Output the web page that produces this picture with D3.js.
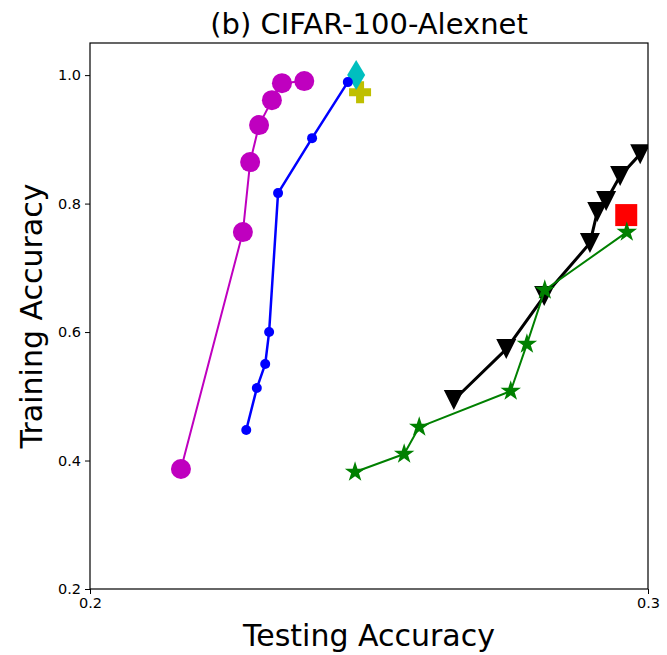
<!DOCTYPE html>
<html>
<head>
<meta charset="utf-8">
<script src="https://cdn.jsdelivr.net/npm/d3@7"></script>
<style>
  html, body { margin: 0; padding: 0; background: #fff; }
  svg text { font-family: "DejaVu Sans", sans-serif; fill: #000; }
</style>
</head>
<body>
<svg id="chart" width="667" height="655"></svg>
<script>
// Testing vs training accuracy, one array pair per method
const magentaTest  = [0.2163, 0.2274, 0.2287, 0.2303, 0.2326, 0.2344, 0.2384];
const magentaTrain = [0.3868, 0.7556, 0.8646, 0.9222, 0.9610, 0.9875, 0.9907];

const blueTest  = [0.2280, 0.2299, 0.2314, 0.2321, 0.2337, 0.2398, 0.2462];
const blueTrain = [0.4475, 0.5128, 0.5502, 0.6000, 0.8163, 0.9019, 0.9891];

const blackTest  = [0.2652, 0.2746, 0.2814, 0.2896, 0.2909, 0.2925, 0.2950, 0.2986];
const blackTrain = [0.4942, 0.5735, 0.6560, 0.7385, 0.7868, 0.8039, 0.8428, 0.8770];

const greenTest  = [0.2475, 0.2563, 0.2590, 0.2754, 0.2783, 0.2815, 0.2962];
const greenTrain = [0.3821, 0.4101, 0.4521, 0.5082, 0.5813, 0.6654, 0.7556];

// single-point methods
const cyanPoint   = [0.2477, 1.0000];
const yellowPoint = [0.2484, 0.9735];
const redPoint    = [0.2961, 0.7821];

const xTicks = [0.2, 0.3];
const yTicks = [0.2, 0.4, 0.6, 0.8, 1.0];

const margin = { left: 90, right: 19, top: 43, bottom: 66 };
const W = 667, H = 655;
const svg = d3.select("#chart");

const x = d3.scaleLinear().domain([0.2, 0.3]).range([margin.left, W - margin.right]);
const y = d3.scaleLinear().domain([0.2, 1.05]).range([H - margin.bottom, margin.top]);

svg.append("defs").append("clipPath").attr("id", "plotclip")
  .append("rect")
  .attr("x", margin.left).attr("y", margin.top)
  .attr("width", x.range()[1] - x.range()[0])
  .attr("height", y.range()[0] - y.range()[1]);

const plot = svg.append("g").attr("clip-path", "url(#plotclip)");

const zip = (a, b) => a.map((v, i) => [v, b[i]]);
const line = d3.line().x(d => x(d[0])).y(d => y(d[1]));

function series(pts, color, width, markerFn) {
  plot.append("path").datum(pts)
    .attr("d", line).attr("fill", "none")
    .attr("stroke", color).attr("stroke-width", width)
    .attr("stroke-linejoin", "round");
  markerFn(plot.selectAll(null).data(pts).enter(), color);
}

const circles = r => (sel, color) => sel.append("circle")
  .attr("cx", d => x(d[0])).attr("cy", d => y(d[1])).attr("r", r).attr("fill", color);

const symbolAt = (type, size) => (sel, color) => sel.append("path")
  .attr("d", d3.symbol().type(type).size(size)())
  .attr("transform", d => `translate(${x(d[0])},${y(d[1])})`)
  .attr("fill", color);

// downward triangle centred on its bounding box
const triDown = (sel, color) => sel.append("path")
  .attr("d", "M-10,-10 L10,-10 L0,10 Z")
  .attr("transform", d => `translate(${x(d[0])},${y(d[1])})`)
  .attr("fill", color);

series(zip(magentaTest, magentaTrain), "#bf00bf", 2, circles(10));

// single markers
plot.append("rect")
  .attr("x", x(redPoint[0]) - 11).attr("y", y(redPoint[1]) - 11)
  .attr("width", 22).attr("height", 22).attr("fill", "#ff0000");
plot.append("path")
  .attr("d", "M-4,-11 L4,-11 L4,-4 L11,-4 L11,4 L4,4 L4,11 L-4,11 L-4,4 L-11,4 L-11,-4 L-4,-4 Z")
  .attr("transform", `translate(${x(yellowPoint[0])},${y(yellowPoint[1])})`)
  .attr("fill", "#bfbf00");
plot.append("path")
  .attr("d", "M0,-15 L9,0 L0,15 L-9,0 Z")
  .attr("transform", `translate(${x(cyanPoint[0])},${y(cyanPoint[1])})`)
  .attr("fill", "#00bfbf");

series(zip(blueTest, blueTrain), "#0000ff", 2.5, circles(5));
series(zip(blackTest, blackTrain), "#000000", 3, triDown);
series(zip(greenTest, greenTrain), "#008000", 2, symbolAt(d3.symbolStar, 130));

// frame
svg.append("rect")
  .attr("x", margin.left).attr("y", margin.top)
  .attr("width", x.range()[1] - x.range()[0])
  .attr("height", y.range()[0] - y.range()[1])
  .attr("fill", "none").attr("stroke", "#000").attr("stroke-width", 1.2);

// axes
const xAxis = svg.append("g")
  .attr("transform", `translate(0,${H - margin.bottom})`)
  .call(d3.axisBottom(x).tickValues(xTicks).tickFormat(d3.format(".1f")).tickSize(5).tickPadding(4));
const yAxis = svg.append("g")
  .attr("transform", `translate(${margin.left},0)`)
  .call(d3.axisLeft(y).tickValues(yTicks).tickFormat(d3.format(".1f")).tickSize(5).tickPadding(4));
[xAxis, yAxis].forEach(a => {
  a.select(".domain").remove();
  a.selectAll(".tick line").attr("stroke", "#000").attr("stroke-width", 1);
  a.selectAll(".tick text").attr("font-size", 14.5).attr("font-family", "DejaVu Sans, sans-serif").attr("fill", "#000");
});

// title and axis labels
svg.append("text")
  .attr("x", (x.range()[0] + x.range()[1]) / 2).attr("y", 34)
  .attr("text-anchor", "middle").attr("font-size", 29)
  .text("(b) CIFAR-100-Alexnet");
svg.append("text")
  .attr("x", (x.range()[0] + x.range()[1]) / 2).attr("y", 646)
  .attr("text-anchor", "middle").attr("font-size", 30)
  .text("Testing Accuracy");
svg.append("text")
  .attr("transform", `translate(42,${(y.range()[0] + y.range()[1]) / 2}) rotate(-90)`)
  .attr("text-anchor", "middle").attr("font-size", 30)
  .text("Training Accuracy");
</script>
</body>
</html>
